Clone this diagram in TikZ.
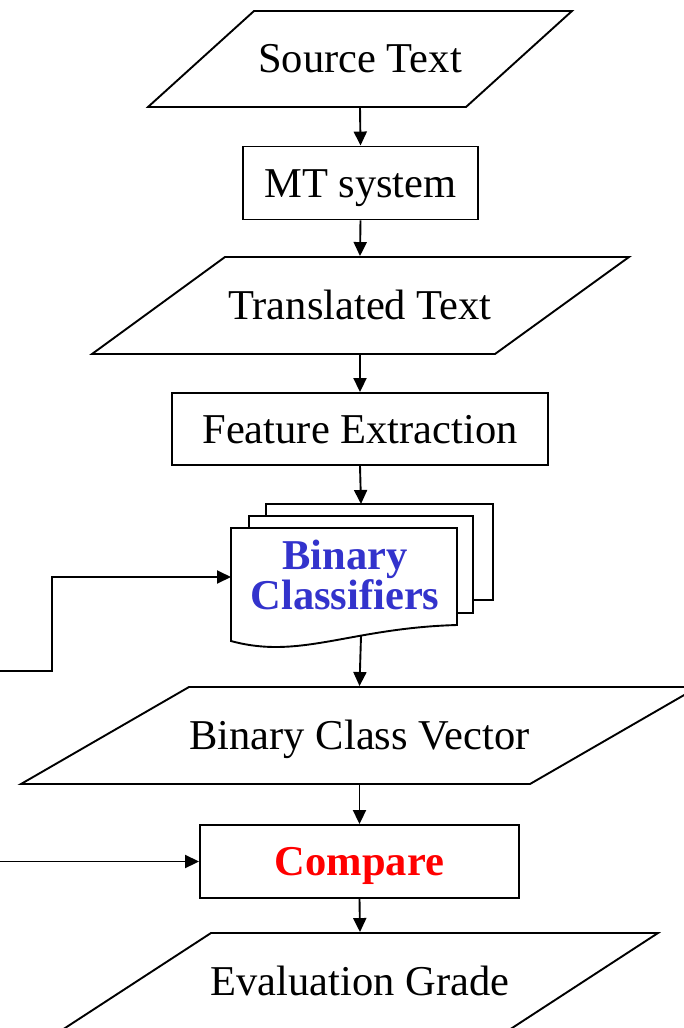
\documentclass[tikz,border=0pt]{standalone}
\usepackage{fontspec}
\setmainfont{Liberation Serif}
\usetikzlibrary{arrows.meta}
\definecolor{clsblue}{RGB}{51,51,204}
\definecolor{cmpred}{RGB}{255,0,0}
\begin{document}
\begin{tikzpicture}[x=1pt,y=-1pt,
  line width=1.9pt,
  font=\fontsize{42.5}{40}\selectfont,
  >={Triangle[length=14pt,width=13pt]},
  capfit/.style={text height=28pt, text depth=0pt},
  procbox/.style={draw, inner sep=0pt, capfit},
  lbl/.style={inner sep=0pt, capfit},
  shapeline/.style={draw, fill=white, line join=miter},
  conn/.style={->}]
\useasboundingbox (0,0) rectangle (683,1028);

% Source Text
\draw[shapeline] (254,11) -- (572,11) -- (466,107) -- (148,107) -- cycle;
\node[lbl, minimum height=96pt] (src) at (360,58) {Source Text};

% MT system
\node[procbox, minimum width=235pt, minimum height=73pt] (mt) at (360.5,183) {MT system};

% Translated Text
\draw[shapeline] (225,257) -- (629,257) -- (495,354) -- (92,354) -- cycle;
\node[lbl, minimum height=97pt] (tt) at (360,305.5) {Translated Text};

% Feature Extraction
\node[procbox, minimum width=376pt, minimum height=72pt] (fe) at (360,429) {Feature Extraction};

% Binary Classifiers (multi-document)
\draw[shapeline] (266,504) rectangle (493,600);
\draw[shapeline] (249,516) rectangle (473,613);
\draw[shapeline] (231,528) -- (457,528) -- (457,625) .. controls (350,628) and (300,660) .. (231,641) -- cycle;
\coordinate (docsn) at (361,504);
\coordinate (bcw) at (231,577);
\coordinate (bcs) at (361,636);
\node[inner sep=0pt, align=center, text=clsblue, font=\fontsize{42.5}{40}\selectfont\bfseries] (bc) at (345,575) {Binary\\Classifiers};

% Binary Class Vector
\draw[shapeline] (189,687) -- (698,687) -- (530,784) -- (21,784) -- cycle;
\node[lbl, minimum height=97pt] (bcv) at (359.5,735.5) {Binary Class Vector};

% Compare
\node[procbox, minimum width=319pt, minimum height=73pt, text=cmpred, font=\fontsize{42.5}{40}\selectfont\bfseries] (cmp) at (359.5,861.5) {Compare};

% Evaluation Grade
\draw[shapeline] (211,933) -- (658,933) -- (509,1030) -- (62,1030) -- cycle;
\node[lbl, minimum height=97pt] (eg) at (360,981.5) {Evaluation Grade};

% free ends on the left
\coordinate (fb) at (0,671);
\coordinate (cin) at (0,861.5);

% connectors
\draw[conn] (src.south) -- (mt.north);
\draw[conn] (mt.south) -- (tt.north);
\draw[conn] (tt.south) -- (fe.north);
\draw[conn] (fe.south) -- (docsn);
\draw[conn] (fb) -- ++(52,0) |- (bcw);
\draw[conn] (bcs) -- (bcv.north);
\draw[conn] (bcv.south) -- (cmp.north);
\draw[conn] (cin) -- (cmp.west);
\draw[conn] (cmp.south) -- (eg.north);
\end{tikzpicture}
\end{document}
